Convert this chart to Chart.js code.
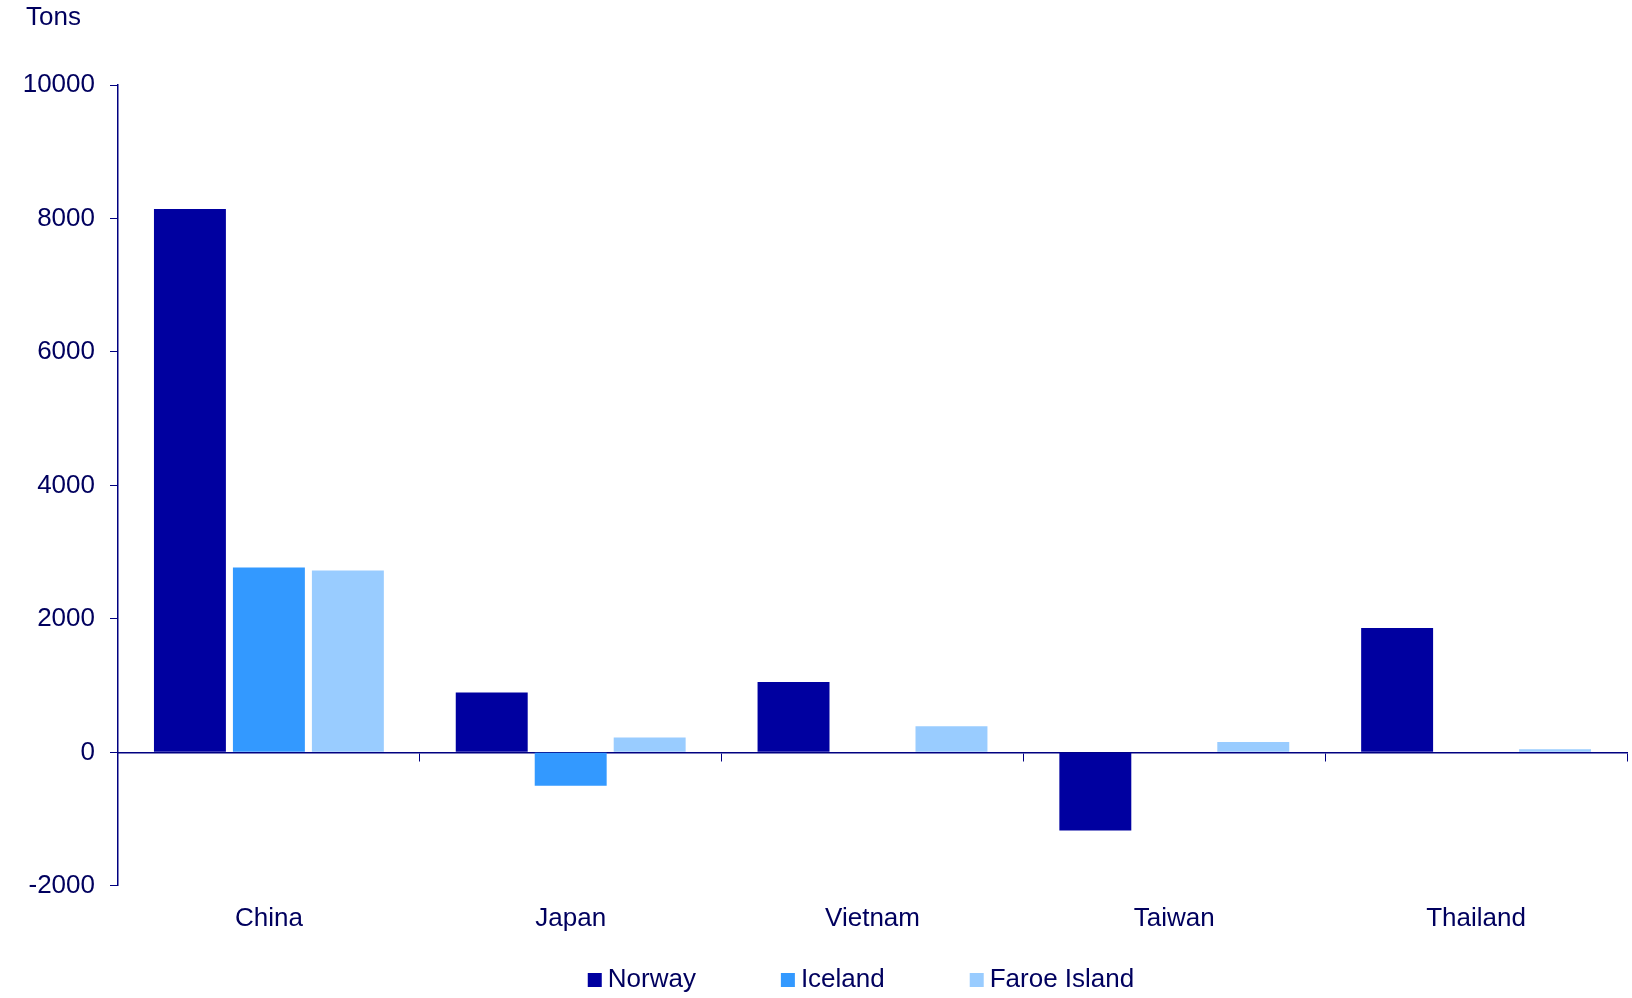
<!DOCTYPE html>
<html>
<head>
<meta charset="utf-8">
<script src="https://cdn.jsdelivr.net/npm/chart.js@4.4.1/dist/chart.umd.min.js"></script>
<style>
  html, body { margin: 0; padding: 0; background: #ffffff; }
  #wrap { width: 1632px; height: 998px; }
</style>
</head>
<body>
<div id="wrap"><canvas id="c" width="1632" height="998"></canvas></div>
<script>
const categories = ['China', 'Japan', 'Vietnam', 'Taiwan', 'Thailand'];
const norway = [8140, 895, 1055, -1170, 1865];
const iceland = [2770, -500, null, null, null];
const faroe = [2725, 222, 390, 155, 48];
const seriesNames = ['Norway', 'Iceland', 'Faroe Island'];
const yTicks = [-2000, 0, 2000, 4000, 6000, 8000, 10000];
const unitLabel = 'Tons';

const TEXT = '#00005E';
const AXIS = '#000080';
const FONT = 'Liberation Sans, Arial, sans-serif';

const extrasPlugin = {
  id: 'extras',
  afterDraw(chart) {
    const ctx = chart.ctx;
    ctx.save();
    ctx.font = '26px ' + FONT;
    ctx.fillStyle = TEXT;
    ctx.textBaseline = 'middle';
    ctx.textAlign = 'left';
    ctx.fillText(unitLabel, 26, 18);
    // legend
    const box = 14, gapText = 6, gapItem = 85;
    const items = chart.data.datasets.map(ds => ({
      text: ds.label, color: ds.backgroundColor, w: ctx.measureText(ds.label).width
    }));
    const total = items.reduce((s, it) => s + box + gapText + it.w, 0) + gapItem * (items.length - 1);
    let x = 861 - total / 2;
    const y = 980;
    items.forEach(it => {
      ctx.fillStyle = it.color;
      ctx.fillRect(x, y - box / 2, box, box);
      ctx.fillStyle = TEXT;
      ctx.fillText(it.text, x + box + gapText, y);
      x += box + gapText + it.w + gapItem;
    });
    ctx.restore();
  }
};

new Chart(document.getElementById('c'), {
  type: 'bar',
  data: {
    labels: categories,
    datasets: [
      { label: seriesNames[0], data: norway, backgroundColor: '#0000A0' },
      { label: seriesNames[1], data: iceland, backgroundColor: '#3399FF' },
      { label: seriesNames[2], data: faroe, backgroundColor: '#99CCFF' }
    ]
  },
  options: {
    responsive: false,
    animation: false,
    devicePixelRatio: 1,
    categoryPercentage: 0.785,
    barPercentage: 0.911,
    layout: { padding: { left: 0, right: 5, top: 85, bottom: 55 } },
    plugins: {
      legend: { display: false },
      tooltip: { enabled: false },
      title: { display: false }
    },
    scales: {
      x: {
        type: 'category',
        grid: { display: false },
        border: { display: false },
        ticks: { color: TEXT, font: { family: FONT, size: 26 }, padding: 9 }
      },
      x2: {
        type: 'category',
        labels: categories,
        position: { y: 0 },
        offset: true,
        grid: { offset: true, drawOnChartArea: false, drawTicks: true, tickLength: 8, color: AXIS, lineWidth: 1 },
        border: { display: true, color: AXIS, width: 1.5 },
        ticks: { display: false }
      },
      y: {
        min: yTicks[0],
        max: yTicks[yTicks.length - 1],
        afterFit(scale) { scale.width = 118; },
        afterBuildTicks(scale) { scale.ticks = yTicks.map(v => ({ value: v })); },
        grid: { drawOnChartArea: false, drawTicks: true, tickLength: 8, color: AXIS },
        border: { display: true, color: AXIS, width: 1.5 },
        ticks: { color: TEXT, font: { family: FONT, size: 26 }, padding: 15, callback: v => String(v) }
      }
    }
  },
  plugins: [extrasPlugin]
});
</script>
</body>
</html>
